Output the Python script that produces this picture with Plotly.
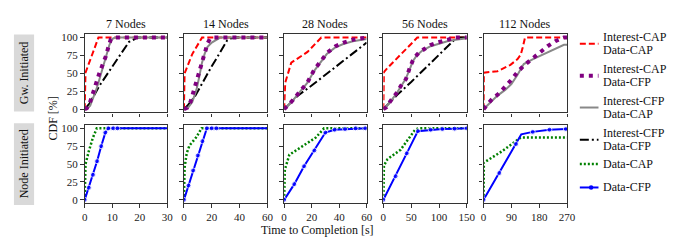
import plotly.graph_objects as go

W, H = 683, 240

PANEL_TITLES = ["7 Nodes", "14 Nodes", "28 Nodes", "56 Nodes", "112 Nodes"]
X_MAX = [30, 60, 60, 150, 270]
X_TICKS = [[0, 10, 20, 30], [0, 20, 40, 60], [0, 20, 40, 60], [0, 50, 100, 150], [0, 90, 180, 270]]
Y_TICKS = [0, 25, 50, 75, 100]

# ---- Gateway initiated (top row) ----
ICAP_DCAP_X = [[0, 0.3, 5, 30],
               [0, 0.5, 6, 13, 60],
               [0, 0.8, 5.2, 17, 27, 60],
               [0, 1, 8, 61, 150],
               [0, 1, 45, 87, 110, 120, 126, 134, 270]]
ICAP_DCAP_Y = [[0, 51, 100, 100],
               [0, 50, 77, 100, 100],
               [0, 37, 65, 80, 100, 100],
               [0, 52, 58, 100, 100],
               [0, 51, 53, 62, 70, 76, 85, 100, 100]]

ICAP_DCFP_X = [[0, 0.8, 1.8, 3, 4.2, 5.4, 6.5, 7.7, 8.7, 9.5, 10.7, 30],
               [0, 2.4, 4.7, 6.4, 8.7, 10.6, 12.2, 14, 15.3, 17, 18.6, 21.6, 60],
               [0, 1, 5.2, 11.2, 17, 21.9, 26.7, 31.4, 37.4, 43.3, 50.5, 58.8, 60],
               [0, 5.3, 14, 23, 31.8, 40.6, 46.5, 52.4, 58, 64, 73, 84.7, 96.5, 111, 129, 150],
               [0, 2, 25, 50, 71, 90, 110, 133, 156, 180, 207, 232, 259, 270]]
ICAP_DCFP_Y = [[0, 1.4, 8, 24, 37.5, 51, 62, 74, 88, 97.7, 100, 100],
               [0, 2, 10, 22, 33, 47, 60, 71.5, 83, 92, 98, 100, 100],
               [0, 2, 10, 24, 37.5, 55, 68, 79, 88, 93, 97.3, 100, 100],
               [0, 2.7, 12.7, 21.7, 33, 42, 55.7, 67, 74, 79, 83.7, 89.6, 93, 96, 100, 100],
               [0, 1, 13, 22, 31, 41, 52, 62, 70, 79, 88, 95, 100, 100]]

ICFP_DCAP_X = [[0, 1, 2, 3, 4, 5, 6, 7, 8, 9, 10, 11, 30],
               [0, 3, 6, 9, 11, 13, 15, 17, 20, 23, 26, 60],
               [0, 5, 11, 17, 22, 27, 31, 37, 43, 50, 55, 60],
               [0, 10, 23, 32, 40, 47, 53, 60, 70, 85, 100, 115, 130, 140, 150],
               [0, 20, 45, 70, 90, 110, 130, 160, 200, 240, 260, 270]]
ICFP_DCAP_Y = [[0, 1, 5, 14, 25, 37, 50, 63, 77, 90, 98, 100, 100],
               [0, 2, 10, 27, 45, 65, 78, 87, 93, 97, 100, 100],
               [0, 9, 23, 37, 54, 67, 77, 86, 91, 95, 97, 98],
               [0, 8, 21, 32, 42, 55, 67, 75, 82, 88, 92, 95, 97, 98.5, 99],
               [0, 8, 19, 27, 35, 48, 63, 70, 78, 86, 90, 90]]

ICFP_DCFP_X = [[0, 1.8, 5.4, 10.1, 14.9, 16.1, 17.3, 19, 30],
               [0, 3, 8, 12.2, 20, 25, 29, 31, 34, 37, 60],
               [0, 5, 10, 20, 30, 40, 50, 60],
               [0, 10, 25, 50, 75, 100, 129, 135, 150],
               []]
ICFP_DCFP_Y = [[0, 8, 33, 60, 87, 94, 96, 100, 100],
               [0, 6, 18, 33, 60, 76, 90, 96, 99, 100, 100],
               [0, 10, 19, 33, 48, 63, 78, 93],
               [0, 8, 20, 38, 57, 76, 98, 100, 100],
               []]

# ---- Node initiated (bottom row) ----
DCAP_X = [[0, 0.3, 1.5, 3, 4.4, 30],
          [0, 0.5, 2, 4, 8.7, 12.7, 60],
          [0, 0.5, 3.8, 13, 23, 29, 60],
          [0, 1, 7.6, 31, 57, 63, 150],
          [0, 1, 60, 120, 270]]
DCAP_Y = [[0, 50, 68, 87, 100, 100],
          [0, 45, 65, 76, 87, 100, 100],
          [0, 42, 63, 74, 87, 100, 100],
          [0, 48, 57, 70, 98, 100, 100],
          [0, 52, 68, 87, 87]]

DCFP_X = [[0, 1.5, 3, 4.5, 6, 7.5, 8.6, 10.4, 11.9, 30],
          [0, 3.3, 6.6, 10, 13.3, 16.5, 20, 23.3, 60],
          [0, 7.4, 14.5, 22, 30, 36.7, 44.3, 52, 59, 60],
          [0, 22, 42, 62, 85, 106, 128, 150],
          [0, 51, 105, 122, 159, 213, 266, 270]]
DCFP_Y = [[0, 17, 35, 54, 75, 94, 100, 100, 100, 100],
          [0, 20, 41, 62, 82, 100, 100, 100, 100],
          [0, 22, 47, 69, 94, 98, 99, 100, 100, 100],
          [0, 33, 65, 96, 98, 99, 99.5, 100],
          [0, 37.5, 78, 91.5, 95, 98, 99, 99]]
# vertices of the blue curves that carry no marker (corner / axis-end)
DCFP_PLAIN_X = [[30], [60], [60], [], [122, 270]]

LEGEND_KEYS = ["icap_dcap", "icap_dcfp", "icfp_dcap", "icfp_dcfp", "dcap", "dcfp"]
LEGEND_LABELS = [["Interest-CAP", "Data-CAP"], ["Interest-CAP", "Data-CFP"],
                 ["Interest-CFP", "Data-CAP"], ["Interest-CFP", "Data-CFP"],
                 ["Data-CAP"], ["Data-CFP"]]

FONT = "Liberation Serif"
AX = "#333333"
TXT = "#111111"

styles = {
    "icap_dcap": dict(color="#ff0000", width=2, dash="6px,3px"),
    "icap_dcfp": dict(color="#800080", width=4, dash="4px,5px"),
    "icfp_dcap": dict(color="#888888", width=2),
    "icfp_dcfp": dict(color="#000000", width=2, dash="9px,3px,2px,3px"),
    "dcap": dict(color="#008000", width=2.5, dash="2px,2px"),
    "dcfp": dict(color="#0000ff", width=2),
}

X_PX = [(75, 159), (176, 261), (278, 362), (379, 464), (481, 566)]
ROW_PX = [(24, 104), (117, 197)]


def px_x(v):
    return v / W


def px_y(v):
    return 1 - v / H


fig = go.Figure()

top_series = [("icap_dcap", ICAP_DCAP_X, ICAP_DCAP_Y),
              ("icfp_dcfp", ICFP_DCFP_X, ICFP_DCFP_Y),
              ("icfp_dcap", ICFP_DCAP_X, ICFP_DCAP_Y),
              ("icap_dcfp", ICAP_DCFP_X, ICAP_DCFP_Y)]

for c in range(5):
    for key, XS, YS in top_series:
        if not XS[c]:
            continue
        fig.add_trace(go.Scatter(
            x=XS[c], y=YS[c], mode="lines", line=styles[key],
            name=" / ".join(LEGEND_LABELS[LEGEND_KEYS.index(key)]), showlegend=False,
            xaxis=f"x{2*c+1}", yaxis=f"y{2*c+1}"))
    fig.add_trace(go.Scatter(
        x=DCAP_X[c], y=DCAP_Y[c], mode="lines", line=styles["dcap"], name="Data-CAP",
        showlegend=False, xaxis=f"x{2*c+2}", yaxis=f"y{2*c+2}"))
    sizes = [0 if xv in DCFP_PLAIN_X[c] else 5 for xv in DCFP_X[c]]
    fig.add_trace(go.Scatter(
        x=DCFP_X[c], y=DCFP_Y[c], mode="lines+markers", line=styles["dcfp"],
        marker=dict(color="#0000ff", size=sizes, symbol="circle"), name="Data-CFP",
        showlegend=False, xaxis=f"x{2*c+2}", yaxis=f"y{2*c+2}"))

axis_common = dict(showline=True, mirror=True, linecolor=AX, linewidth=1.3,
                   ticks="outside", ticklen=3.5, tickwidth=1, tickcolor=AX,
                   showgrid=False, zeroline=False,
                   tickfont=dict(family=FONT, size=11, color="#222222"))

layout = {}
for c in range(5):
    for r in range(2):
        idx = 2 * c + 1 + r
        xname = "xaxis" if idx == 1 else f"xaxis{idx}"
        yname = "yaxis" if idx == 1 else f"yaxis{idx}"
        x0, x1 = X_PX[c]
        y0, y1 = ROW_PX[r]
        layout[xname] = dict(axis_common, domain=[px_x(x0), px_x(x1)], range=[0, X_MAX[c]],
                             tickvals=X_TICKS[c], showticklabels=(r == 1),
                             anchor=f"y{idx}" if idx > 1 else "y")
        layout[yname] = dict(axis_common, domain=[px_y(y1), px_y(y0)], range=[-4.5, 104.5],
                             tickvals=Y_TICKS, showticklabels=(c == 0),
                             anchor=f"x{idx}" if idx > 1 else "x")


def text_ann(text, x, y, size=12, angle=0, xanchor="center"):
    return dict(text=text, x=px_x(x), y=px_y(y), textangle=angle,
                xref="paper", yref="paper", showarrow=False, borderpad=0,
                xanchor=xanchor, yanchor="middle",
                font=dict(family=FONT, size=size, color=TXT))


annotations = []
shapes = []
for c in range(5):
    x0, x1 = X_PX[c]
    annotations.append(text_ann(PANEL_TITLES[c], (x0 + x1) / 2, 13))
annotations.append(text_ann("Time to Completion [s]", 312, 225))
annotations.append(text_ann("CDF [%]", 43, 110, angle=-90))

row_labels = ["Gw. Initiated", "Node Initiated"]
box_px = [(24, 103), (115, 199)]
for r in range(2):
    b0, b1 = box_px[r]
    shapes.append(dict(type="rect", xref="paper", yref="paper",
                       x0=px_x(3), x1=px_x(23.5), y0=px_y(b1), y1=px_y(b0),
                       fillcolor="#d9d9d9", line=dict(width=0), layer="below"))
    annotations.append(text_ann(row_labels[r], 13.5, (b0 + b1) / 2, angle=-90))

# legend (key samples + labels at the right side)
legend_y = [33.5, 66.5, 99, 132, 157, 181]
key_x0, key_x1, text_x = 579, 598, 602
half_gap = 6.7
for key, labels, ly in zip(LEGEND_KEYS, LEGEND_LABELS, legend_y):
    shapes.append(dict(type="line", xref="paper", yref="paper",
                       x0=px_x(key_x0), x1=px_x(key_x1), y0=px_y(ly), y1=px_y(ly),
                       line=styles[key]))
    if key == "dcfp":
        cx, r = (key_x0 + key_x1) / 2 + 2, 2.3
        shapes.append(dict(type="circle", xref="paper", yref="paper",
                           x0=px_x(cx - r), x1=px_x(cx + r), y0=px_y(ly + r), y1=px_y(ly - r),
                           fillcolor="#0000ff", line=dict(width=0)))
    if len(labels) == 2:
        annotations.append(text_ann(labels[0], text_x, ly - half_gap, xanchor="left"))
        annotations.append(text_ann(labels[1], text_x, ly + half_gap, xanchor="left"))
    else:
        annotations.append(text_ann(labels[0], text_x, ly, xanchor="left"))

fig.update_layout(
    width=W, height=H, margin=dict(l=0, r=0, t=0, b=0),
    paper_bgcolor="white", plot_bgcolor="white", showlegend=False,
    annotations=annotations, shapes=shapes,
    **layout,
)

fig.write_html("out.html")
